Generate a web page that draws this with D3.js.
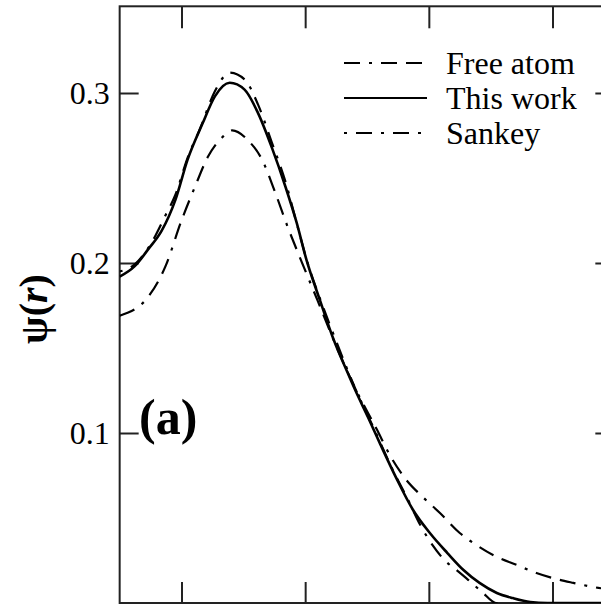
<html>
<head>
<script src="https://d3js.org/d3.v7.min.js"></script>
<style>
  * { margin: 0; padding: 0; }
  body { background: #fff; }
  svg text { font-family: 'Liberation Serif', 'DejaVu Serif', serif; fill: #000; }
</style>
</head>
<body>
<div id="chart"></div>
<script>
// r values (no labels visible for x) and psi(r) per curve
var rFree = [0.5, 0.73, 0.87, 1.0, 1.11, 1.21, 1.33, 1.41, 1.54, 1.65, 1.76, 1.86, 1.97, 2.1, 2.24, 2.4, 2.58, 2.69, 2.82, 2.95, 3.09, 3.25, 3.41, 3.55, 3.71, 3.87, 4.0, 4.17, 4.33, 4.5];
var psiFree = [0.169, 0.18, 0.198, 0.225, 0.245, 0.262, 0.274, 0.278, 0.272, 0.261, 0.241, 0.221, 0.201, 0.178, 0.153, 0.127, 0.102, 0.0863, 0.0722, 0.0624, 0.0529, 0.0412, 0.0329, 0.0271, 0.0224, 0.0176, 0.0147, 0.0118, 0.0094, 0.0076];

var rThis = [0.5, 0.62, 0.73, 0.84, 0.95, 1.05, 1.17, 1.27, 1.39, 1.51, 1.62, 1.73, 1.84, 1.93, 2.01, 2.12, 2.23, 2.34, 2.4, 2.51, 2.61, 2.74, 2.87, 3.01, 3.15, 3.28, 3.41, 3.55, 3.68, 3.82, 3.96, 4.14, 4.5];
var psiThis = [0.192, 0.198, 0.208, 0.219, 0.237, 0.261, 0.282, 0.298, 0.306, 0.302, 0.288, 0.268, 0.245, 0.224, 0.202, 0.178, 0.155, 0.136, 0.126, 0.109, 0.093, 0.073, 0.055, 0.041, 0.0294, 0.0194, 0.0118, 0.0059, 0.0029, 0.0006, 0.0, 0.0, 0.0];

var rSankey = [0.5, 0.62, 0.75, 0.87, 0.95, 1.05, 1.15, 1.27, 1.39, 1.51, 1.62, 1.73, 1.84, 1.94, 2.02, 2.12, 2.24, 2.4, 2.56, 2.71, 2.83, 2.93, 3.03, 3.13, 3.23, 3.32, 3.43, 3.54, 3.82, 4.5];
var psiSankey = [0.195, 0.199, 0.211, 0.228, 0.24, 0.262, 0.279, 0.301, 0.312, 0.308, 0.293, 0.271, 0.248, 0.221, 0.2, 0.179, 0.156, 0.127, 0.102, 0.078, 0.061, 0.046, 0.034, 0.025, 0.019, 0.0135, 0.0065, 0.0, -0.002, -0.0024];

var yTicks = [0.1, 0.2, 0.3];
var xTicks = [1, 2, 3, 4];
var legendNames = ['Free atom', 'This work', 'Sankey'];

var width = 601, height = 606;
var xMin = 0.5, xMax = 4.5, yMax = 0.351;

var svg = d3.select('#chart').append('svg')
  .attr('width', width)
  .attr('height', height);

var x = d3.scaleLinear().domain([1, 4]).range([181.5, 552.5]);
var y = d3.scaleLinear().domain([0, 0.3]).range([603, 93]);

var pLeft = x(xMin), pRight = x(xMax), pTop = y(yMax), pBottom = y(0);

svg.append('clipPath').attr('id', 'plotclip')
  .append('rect')
  .attr('x', pLeft).attr('y', pTop)
  .attr('width', pRight - pLeft).attr('height', pBottom - pTop);

// frame
svg.append('rect')
  .attr('x', pLeft).attr('y', pTop)
  .attr('width', pRight - pLeft).attr('height', pBottom - pTop)
  .attr('fill', 'none')
  .attr('stroke', '#222')
  .attr('stroke-width', 2);

// inward ticks
svg.append('g').attr('transform', 'translate(0,' + pBottom + ')')
  .call(d3.axisBottom(x).tickValues(xTicks).tickSize(-21).tickFormat(''))
  .call(function (g) { g.select('.domain').remove(); });
svg.append('g').attr('transform', 'translate(0,' + pTop + ')')
  .call(d3.axisTop(x).tickValues(xTicks).tickSize(-22).tickFormat(''))
  .call(function (g) { g.select('.domain').remove(); });
svg.append('g').attr('transform', 'translate(' + pLeft + ',0)')
  .call(d3.axisLeft(y).tickValues(yTicks).tickSize(-19).tickPadding(10).tickFormat(d3.format('.1f')))
  .call(function (g) { g.select('.domain').remove(); });
svg.append('g').attr('transform', 'translate(' + pRight + ',0)')
  .call(d3.axisRight(y).tickValues(yTicks).tickSize(-19).tickFormat(''))
  .call(function (g) { g.select('.domain').remove(); });

svg.selectAll('.tick line').attr('stroke', '#222').attr('stroke-width', 2);
svg.selectAll('.tick text')
  .style('font-family', "'Liberation Serif', serif")
  .attr('font-size', 32)
  .attr('fill', '#000');

// curves
var series = [
  { name: legendNames[0], r: rFree, v: psiFree, dash: '16,9,3,9,16,9', w: 2.2 },
  { name: legendNames[1], r: rThis, v: psiThis, dash: null, w: 2.6 },
  { name: legendNames[2], r: rSankey, v: psiSankey, dash: '3,9,16,9', w: 2.2 }
];

var line = d3.line()
  .x(function (d) { return x(d[0]); })
  .y(function (d) { return y(d[1]); })
  .curve(d3.curveMonotoneX);

var plot = svg.append('g').attr('clip-path', 'url(#plotclip)');
series.forEach(function (s) {
  plot.append('path')
    .datum(d3.zip(s.r, s.v))
    .attr('d', line)
    .attr('fill', 'none')
    .attr('stroke', '#000')
    .attr('stroke-width', s.w)
    .attr('stroke-dasharray', s.dash);
});

// legend
var leg = svg.append('g');
series.forEach(function (s, i) {
  var ly = 63 + i * 35;
  leg.append('line')
    .attr('x1', 344).attr('x2', 427)
    .attr('y1', ly).attr('y2', ly)
    .attr('stroke', '#000')
    .attr('stroke-width', 2.2)
    .attr('stroke-dasharray', s.dash);
  leg.append('text')
    .attr('x', 446).attr('y', ly + 11)
    .attr('font-size', 32)
    .text(s.name);
});

// y label
var yl = svg.append('text')
  .attr('transform', 'translate(47,309) rotate(-90)')
  .attr('text-anchor', 'middle')
  .attr('font-size', 40)
  .attr('font-weight', 'bold');
yl.append('tspan').text('\u03C8(');
yl.append('tspan').attr('font-style', 'italic').text('r');
yl.append('tspan').text(')');

// panel label
svg.append('text')
  .attr('x', 139).attr('y', 434)
  .attr('font-size', 50)
  .attr('font-weight', 'bold')
  .text('(a)');
</script>
</body>
</html>
